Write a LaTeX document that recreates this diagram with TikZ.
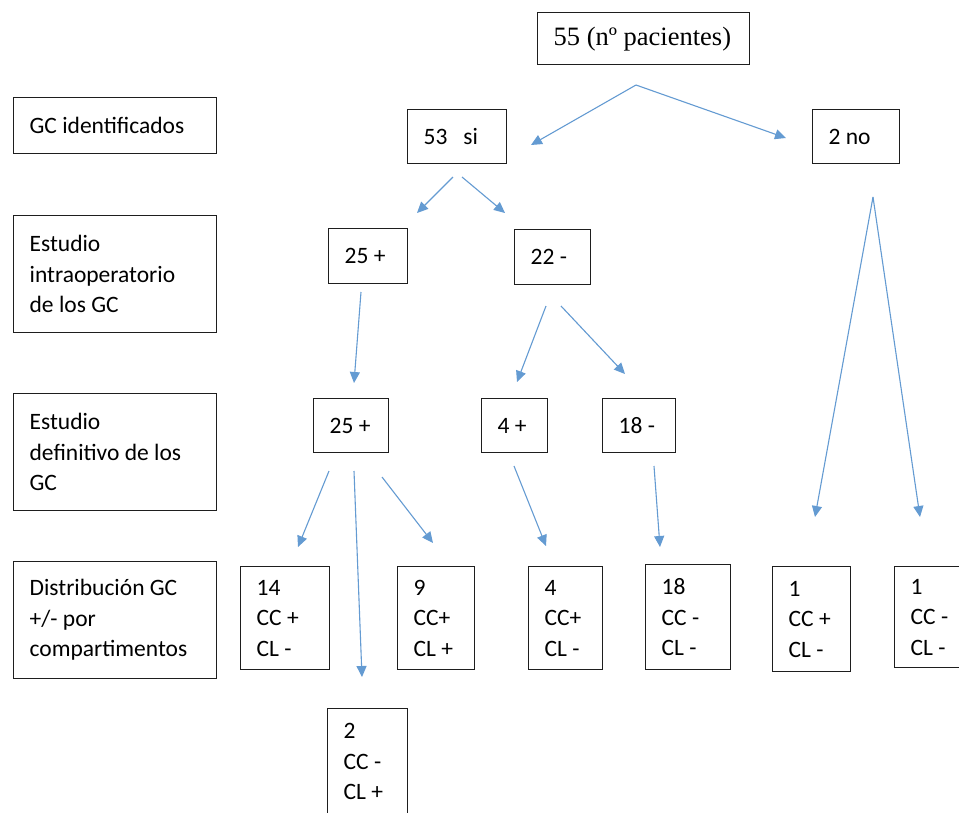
\documentclass[tikz,border=0pt]{standalone}
\usepackage{fontspec}
\setmainfont{Carlito}
\newfontfamily\tnr{Liberation Serif}
\usetikzlibrary{arrows.meta}
\definecolor{arrblue}{RGB}{100,155,210}
\definecolor{boxline}{RGB}{30,30,30}
\tikzset{
  bx/.style n args={2}{draw=boxline, line width=1.3pt, anchor=north west, inner xsep=0pt, inner ysep=0pt,
     minimum width=#1, text width=#1, minimum height=#2, align=flush left,
     execute at begin node={\leftskip=16pt\relax},
     font=\fontsize{23.5}{30.5}\selectfont},
  arr/.style={draw=arrblue, line width=1.1pt, -{Triangle[length=11pt,width=10pt]}}
}
\begin{document}
\begin{tikzpicture}[x=1pt,y=-1pt]
\useasboundingbox (0,0) rectangle (959,812);
\clip (0,0) rectangle (959,812);
\fill[white] (0,0) rectangle (959,812);
% nodes
\node[bx={212pt}{52pt}, font=\tnr\fontsize{26.5}{30}\selectfont] (n55) at (537,12) {55 (nº pacientes)};
\node[bx={203pt}{56pt}] (gcid) at (13,97) {GC identificados};
\node[bx={99pt}{54pt}] (si53) at (407,109) {53\ \ \ si};
\node[bx={87pt}{54pt}] (no2) at (812,109) {2 no};
\node[bx={203pt}{117pt}] (eintra) at (13,215) {Estudio\\intraoperatorio\\de los GC};
\node[bx={79pt}{55pt}] (p25a) at (328,228) {25 +};
\node[bx={76pt}{55pt}] (m22) at (514,229) {22 -};
\node[bx={203pt}{117pt}] (edef) at (13,393) {Estudio\\definitivo de los\\GC};
\node[bx={75pt}{54pt}] (p25b) at (313,398) {25 +};
\node[bx={66pt}{54pt}] (p4) at (481,398) {4 +};
\node[bx={73pt}{54pt}] (m18) at (602,398) {18 -};
\node[bx={203pt}{117pt}] (dist) at (13,561) {Distribución GC\\+/- por\\compartimentos};
\node[bx={89pt}{103pt}] (b14) at (240,566) {14\\CC +\\CL -};
\node[bx={77pt}{103pt}] (b9) at (397,566) {9\\CC+\\CL +};
\node[bx={74pt}{103pt}] (b4) at (528,566) {4\\CC+\\CL -};
\node[bx={85pt}{105pt}] (b18) at (645,564) {18\\CC -\\CL -};
\node[bx={78pt}{105pt}] (b1a) at (772,566) {1\\CC +\\CL -};
\node[bx={80pt}{101pt}] (b1b) at (894,566) {1\\CC -\\CL -};
\node[bx={80pt}{106pt}] (b2) at (327,708) {2\\CC -\\CL +};
% connector end points
\coordinate (s55) at (636,85);
\coordinate (tsi) at (531,145);
\coordinate (tno) at (786,138);
\coordinate (ssiL) at (453,177);
\coordinate (ssiR) at (462,177);
\coordinate (tp25a) at (417,213);
\coordinate (tm22) at (505,213);
\coordinate (sp25a) at (361,292);
\coordinate (tp25b) at (354,383);
\coordinate (sm22L) at (546,306);
\coordinate (sm22R) at (561,306);
\coordinate (tp4) at (517,382);
\coordinate (tm18) at (625,374);
\coordinate (sno) at (873,197);
\coordinate (tb1a) at (815,517);
\coordinate (tb1b) at (920,517);
\coordinate (sp25bL) at (329,471);
\coordinate (sp25bM) at (354,471);
\coordinate (sp25bR) at (382,477);
\coordinate (tb14) at (298,547);
\coordinate (tb2) at (362,677);
\coordinate (tb9) at (433,543);
\coordinate (sp4) at (514,466);
\coordinate (tb4) at (546,546);
\coordinate (sm18) at (654,466);
\coordinate (tb18) at (660,547);
% connectors
\draw[arr] (s55) -- (tsi);
\draw[arr] (s55) -- (tno);
\draw[arr] (ssiL) -- (tp25a);
\draw[arr] (ssiR) -- (tm22);
\draw[arr] (sp25a) -- (tp25b);
\draw[arr] (sm22L) -- (tp4);
\draw[arr] (sm22R) -- (tm18);
\draw[arr] (sno) -- (tb1a);
\draw[arr] (sno) -- (tb1b);
\draw[arr] (sp25bL) -- (tb14);
\draw[arr] (sp25bM) -- (tb2);
\draw[arr] (sp25bR) -- (tb9);
\draw[arr] (sp4) -- (tb4);
\draw[arr] (sm18) -- (tb18);
\end{tikzpicture}
\end{document}
